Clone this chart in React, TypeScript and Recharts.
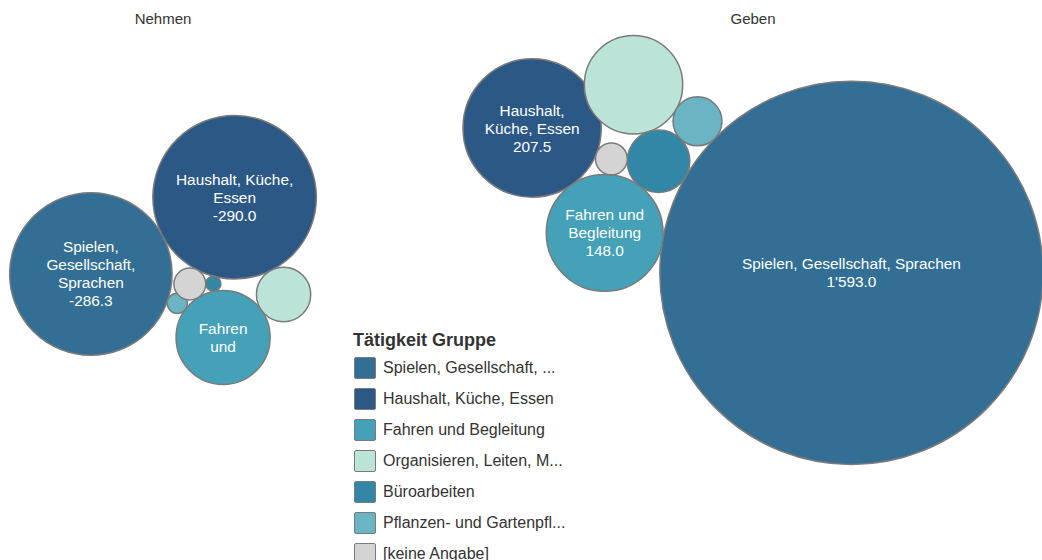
import React from 'react';
import { ScatterChart, Scatter, XAxis, YAxis, ZAxis, Legend, Customized } from 'recharts';

// ---------- data ----------
const groups = ['Nehmen', 'Geben'];
const categories = [
  'Spielen, Gesellschaft, ...',
  'Haushalt, Küche, Essen',
  'Fahren und Begleitung',
  'Organisieren, Leiten, M...',
  'Büroarbeiten',
  'Pflanzen- und Gartenpfl...',
  '[keine Angabe]',
];
const nehmenValues = [-286.3, -290.0, -96.0, -32.0, -2.5, -4.4, -11.0];
const gebenValues = [1593.0, 207.5, 148.0, 105.0, 42.5, 26.0, 11.0];

// label text shown inside the bubbles (as wrapped by the original)
const nehmenLabelLines = [
  ['Spielen,', 'Gesellschaft,', 'Sprachen'],
  ['Haushalt, Küche,', 'Essen'],
  ['Fahren', 'und'],
  [], [], [], [],
];
const nehmenValueShown = [true, true, false, false, false, false, false];
const gebenLabelLines = [
  ['Spielen, Gesellschaft, Sprachen'],
  ['Haushalt,', 'Küche, Essen'],
  ['Fahren und', 'Begleitung'],
  [], [], [], [],
];
const gebenValueShown = [true, true, true, false, false, false, false];

// ---------- styles / layout ----------
const colors = ['#336f94', '#2c5885', '#44a1b8', '#bce3d8', '#3387a6', '#6bb4c3', '#d4d4d4'];
const STROKE = '#7a7a7a';
const FONT = '"Liberation Sans", Arial, Helvetica, sans-serif';
const W = 1042;
const H = 560;
const PX_PER_SQRT = 4.8; // bubble radius per sqrt(value)
const paneCenters = [163, 753];
const paneMiddleY = 250;

// packing recipe: each circle is placed tangent to earlier ones
type Step = { i: number; from?: number; angle?: number; a?: number; b?: number; side?: number };
const nehmenPack: Step[] = [
  { i: 0 },
  { i: 1, from: 0, angle: -28.1 },
  { i: 6, from: 1, angle: 117.3 },
  { i: 2, from: 6, angle: 58.1 },
  { i: 5, a: 0, b: 2, side: -1 },
  { i: 4, a: 6, b: 2, side: -1 },
  { i: 3, a: 1, b: 2, side: -1 },
];
const gebenPack: Step[] = [
  { i: 0 },
  { i: 2, from: 0, angle: 189.2 },
  { i: 4, a: 0, b: 2, side: 1 },
  { i: 6, a: 2, b: 4, side: -1 },
  { i: 1, a: 2, b: 6, side: -1 },
  { i: 5, a: 0, b: 4, side: 1 },
  { i: 3, a: 4, b: 5, side: -1 },
];

const maxAbs = Math.max(...nehmenValues.map(Math.abs), ...gebenValues.map(Math.abs));
const zRange: [number, number] = [0, Math.PI * PX_PER_SQRT * PX_PER_SQRT * maxAbs];
const radiusOf = (v: number) => Math.sqrt(((Math.abs(v) / maxAbs) * zRange[1]) / Math.PI);

function fmt(v: number) {
  const s = Math.abs(v).toFixed(1);
  const [int, dec] = s.split('.');
  const g = int.replace(/\B(?=(\d{3})+(?!\d))/g, "'");
  return (v < 0 ? '-' : '') + g + '.' + dec;
}

function pack(values: number[], steps: Step[], cx: number, cy: number) {
  const r = values.map(radiusOf);
  const pos: { x: number; y: number }[] = new Array(values.length);
  steps.forEach((s) => {
    if (s.from === undefined && s.a === undefined) {
      pos[s.i] = { x: 0, y: 0 };
    } else if (s.from !== undefined) {
      const d = r[s.from] + r[s.i];
      const t = ((s.angle || 0) * Math.PI) / 180;
      pos[s.i] = { x: pos[s.from].x + d * Math.cos(t), y: pos[s.from].y + d * Math.sin(t) };
    } else {
      const A = pos[s.a!];
      const B = pos[s.b!];
      const dx = B.x - A.x;
      const dy = B.y - A.y;
      const d = Math.hypot(dx, dy);
      const ra = r[s.a!] + r[s.i];
      const rb = r[s.b!] + r[s.i];
      const along = (ra * ra - rb * rb + d * d) / (2 * d);
      const h = Math.sqrt(Math.max(0, ra * ra - along * along));
      const ux = dx / d;
      const uy = dy / d;
      const side = s.side || 1;
      pos[s.i] = { x: A.x + along * ux - side * h * uy, y: A.y + along * uy + side * h * ux };
    }
  });
  const minX = Math.min(...pos.map((p, k) => p.x - r[k]));
  const maxX = Math.max(...pos.map((p, k) => p.x + r[k]));
  const minY = Math.min(...pos.map((p, k) => p.y - r[k]));
  const maxY = Math.max(...pos.map((p, k) => p.y + r[k]));
  const ox = cx - (minX + maxX) / 2;
  const oy = cy - (minY + maxY) / 2;
  return pos.map((p) => ({ x: p.x + ox, y: p.y + oy }));
}

function buildPoints(values: number[], steps: Step[], pane: number, lines: string[][], shown: boolean[]) {
  const pos = pack(values, steps, paneCenters[pane], paneMiddleY);
  return values.map((v, k) => ({
    category: categories[k],
    value: v,
    x: pos[k].x,
    y: pos[k].y,
    z: Math.abs(v),
    color: colors[k],
    lines: shown[k] ? [...lines[k], fmt(v)] : lines[k],
  }));
}

const nehmenPoints = buildPoints(nehmenValues, nehmenPack, 0, nehmenLabelLines, nehmenValueShown);
const gebenPoints = buildPoints(gebenValues, gebenPack, 1, gebenLabelLines, gebenValueShown);

const renderBubble = (props: any) => {
  const { cx, cy, width, payload } = props;
  const r = width / 2;
  const lines: string[] = payload.lines || [];
  const n = lines.length;
  return (
    <g>
      <circle cx={cx} cy={cy} r={r} fill={payload.color} stroke={STROKE} strokeWidth={1.5} />
      {lines.map((t, i) => (
        <text
          key={i}
          x={cx}
          y={cy + (i - (n - 1) / 2) * 18 + 5.5}
          textAnchor="middle"
          fill="#ffffff"
          fontFamily={FONT}
          fontSize={15.4}
        >
          {t}
        </text>
      ))}
    </g>
  );
};

const renderLegend = () => (
  <div style={{ fontFamily: FONT, color: '#333333' }}>
    <div style={{ fontWeight: 'bold', fontSize: 18, lineHeight: '24px', whiteSpace: 'nowrap' }}>Tätigkeit Gruppe</div>
    {categories.map((c, k) => (
      <div key={c} style={{ display: 'flex', alignItems: 'center', height: 31 }}>
        <span
          style={{
            display: 'inline-block',
            width: 22,
            height: 22,
            boxSizing: 'border-box',
            marginLeft: 1,
            background: colors[k],
            border: `1.5px solid ${STROKE}`,
            borderRadius: 2,
          }}
        />
        <span style={{ marginLeft: 7, fontSize: 16, whiteSpace: 'nowrap' }}>{c}</span>
      </div>
    ))}
  </div>
);

const Titles = () => (
  <g>
    {groups.map((g, k) => (
      <text key={g} x={paneCenters[k]} y={24} textAnchor="middle" fill="#333333" fontFamily={FONT} fontSize={15}>
        {g}
      </text>
    ))}
  </g>
);

export default function App() {
  return (
    <div style={{ position: 'absolute', left: 0, top: 0, width: W, height: H, background: '#ffffff' }}>
      <ScatterChart width={W} height={H} margin={{ top: 0, right: 0, bottom: 0, left: 0 }}>
        <XAxis type="number" dataKey="x" domain={[0, W]} allowDataOverflow hide />
        <YAxis type="number" dataKey="y" domain={[0, H]} allowDataOverflow reversed hide />
        <ZAxis type="number" dataKey="z" domain={[0, maxAbs]} range={zRange} />
        <Scatter name="Nehmen" data={nehmenPoints} shape={renderBubble} isAnimationActive={false} />
        <Scatter name="Geben" data={gebenPoints} shape={renderBubble} isAnimationActive={false} />
        <Customized component={Titles} />
        <Legend
          layout="horizontal"
          verticalAlign="middle"
          align="center"
          content={renderLegend}
          wrapperStyle={{ left: 353, top: 328, width: 280, height: 240 }}
        />
      </ScatterChart>
    </div>
  );
}
